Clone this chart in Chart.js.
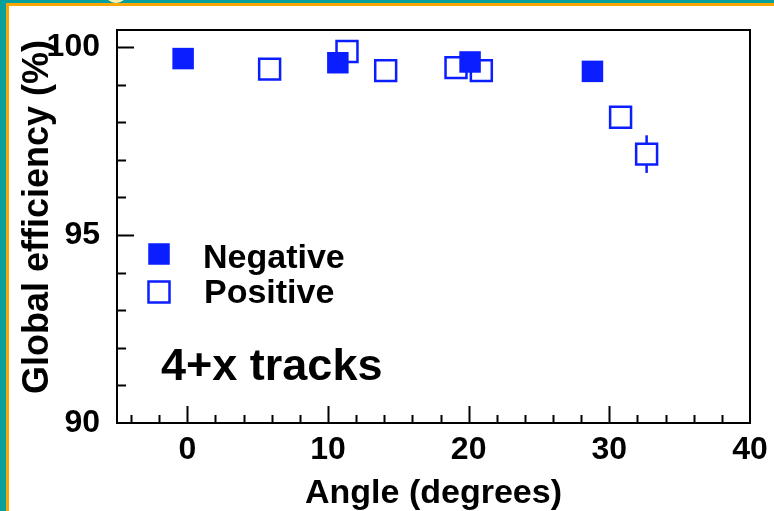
<!DOCTYPE html>
<html>
<head>
<meta charset="utf-8">
<title>Global efficiency vs angle</title>
<script src="https://cdn.jsdelivr.net/npm/chart.js@4.4.1/dist/chart.umd.min.js"></script>
<style>
  html, body { margin: 0; padding: 0; background: #fff; }
  #page { position: relative; width: 774px; height: 511px; overflow: hidden; background: #fff; }
  .bar { position: absolute; }
  #tealLeft { left: 0; top: 0; width: 6px; height: 511px; background: #07a09c; }
  #tealTop { left: 0; top: 0; width: 774px; height: 3px; background: #07a09c; }
  #orangeLeft { left: 6px; top: 3px; width: 3px; height: 508px; background: #f9a602; }
  #orangeTop { left: 6px; top: 3px; width: 768px; height: 3px; background: #f9a602; }
  #blob { left: 106px; top: -14px; width: 20px; height: 17px; border-radius: 50%; background: #fff3b0; }
  #chart { position: absolute; left: 0; top: 0; }
</style>
</head>
<body>
<div id="page">
  <div class="bar" id="tealTop"></div>
  <div class="bar" id="tealLeft"></div>
  <div class="bar" id="orangeTop"></div>
  <div class="bar" id="orangeLeft"></div>
  <div class="bar" id="blob"></div>
  <canvas id="chart" width="774" height="511"></canvas>
</div>
<script>
// values
const negAngle = [-0.3, 10.7, 20.1, 28.8];
const negEff = [99.69, 99.58, 99.6, 99.35];
const posAngle = [5.85, 11.35, 14.1, 19.1, 20.9, 30.8, 32.65];
const posEff = [99.41, 99.88, 99.37, 99.45, 99.37, 98.13, 97.15];
const posErr = [0, 0, 0, 0, 0, 0, 0.5];

// axes
const xTicks = [0, 10, 20, 30, 40];
const yTicks = [90, 95, 100];
const xTitle = "Angle (degrees)";
const yTitle = "Global efficiency (%)";
const legendLabels = ["Negative", "Positive"];
const note = "4+x tracks";

const blue = "#0a1eff";
const font = "'Liberation Sans', Arial, sans-serif";

function toPoints(xs, ys) {
  return xs.map((x, i) => ({ x: x, y: ys[i] }));
}

// error bars as short segments, broken by null points
const errPoints = [];
posAngle.forEach((x, i) => {
  if (posErr[i] > 0) {
    errPoints.push({ x: x, y: posEff[i] - posErr[i] });
    errPoints.push({ x: x, y: posEff[i] + posErr[i] });
    errPoints.push({ x: x, y: null });
  }
});

// frame, inward ticks, legend, text
const rootStyle = {
  id: "rootStyle",
  beforeDatasetsDraw(chart) {
    const { ctx, chartArea: a, scales } = chart;
    const x = scales.x, y = scales.y;
    ctx.save();
    ctx.strokeStyle = "#000";
    ctx.lineWidth = 2;
    ctx.strokeRect(a.left, a.top, a.right - a.left, a.bottom - a.top);
    ctx.beginPath();
    for (let v = -4; v < 40; v += 2) {
      const px = Math.round(x.getPixelForValue(v)) + 0.5;
      const len = xTicks.includes(v) ? 17 : 8;
      ctx.moveTo(px, a.bottom);
      ctx.lineTo(px, a.bottom - len);
    }
    for (let v = 91; v <= 100; v++) {
      const py = Math.round(y.getPixelForValue(v)) + 0.5;
      const len = yTicks.includes(v) ? 17 : 9;
      ctx.moveTo(a.left, py);
      ctx.lineTo(a.left + len, py);
    }
    ctx.stroke();
    ctx.restore();
  },
  afterDraw(chart) {
    const { ctx, chartArea: a } = chart;
    ctx.save();
    // legend
    const lx = a.left + 42;
    ctx.fillStyle = blue;
    ctx.fillRect(lx - 10.75, a.top + 224 - 10.75, 21.5, 21.5);
    ctx.strokeStyle = blue;
    ctx.lineWidth = 2.5;
    ctx.strokeRect(lx - 10.5, a.top + 262 - 10.5, 21, 21);
    ctx.fillStyle = "#000";
    ctx.textAlign = "left";
    ctx.textBaseline = "alphabetic";
    ctx.font = "bold 34px " + font;
    ctx.fillText(legendLabels[0], a.left + 86, a.top + 238);
    ctx.fillText(legendLabels[1], a.left + 87, a.top + 273);
    ctx.font = "bold 45px " + font;
    ctx.fillText(note, a.left + 44, a.top + 350);
    // axis titles
    ctx.font = "bold 34px " + font;
    ctx.textAlign = "center";
    ctx.fillText(xTitle, (a.left + a.right) / 2, 503);
    ctx.translate(48, 217);
    ctx.rotate(-Math.PI / 2);
    ctx.font = "bold 36px " + font;
    ctx.fillText(yTitle, 0, 0);
    ctx.restore();
  }
};

new Chart(document.getElementById("chart"), {
  type: "scatter",
  data: {
    datasets: [
      {
        label: legendLabels[0],
        data: toPoints(negAngle, negEff),
        pointStyle: "rect",
        pointRadius: 15.2,
        backgroundColor: blue,
        borderColor: blue,
        borderWidth: 0,
      },
      {
        label: legendLabels[1],
        data: toPoints(posAngle, posEff),
        pointStyle: "rect",
        pointRadius: 14.8,
        backgroundColor: "#ffffff",
        borderColor: blue,
        borderWidth: 2.5,
      },
      {
        label: "error",
        data: errPoints,
        showLine: true,
        spanGaps: false,
        borderColor: blue,
        borderWidth: 2.5,
        pointRadius: 0,
      },
    ],
  },
  options: {
    responsive: false,
    animation: false,
    devicePixelRatio: 1,
    layout: { padding: { top: 30, right: 24, left: 0, bottom: 0 } },
    plugins: {
      legend: { display: false },
      tooltip: { enabled: false },
    },
    scales: {
      x: {
        type: "linear",
        min: -5,
        max: 40,
        grid: { display: false, drawTicks: false },
        border: { display: false },
        afterBuildTicks: (s) => { s.ticks = xTicks.map((v) => ({ value: v })); },
        afterFit: (s) => { s.height = 88; s.paddingLeft = 0; s.paddingRight = 0; },
        ticks: {
          padding: 8,
          color: "#000",
          font: { family: font, size: 32, weight: "bold" },
        },
      },
      y: {
        type: "linear",
        min: 90,
        max: 100.45,
        grid: { display: false, drawTicks: false },
        border: { display: false },
        afterBuildTicks: (s) => { s.ticks = yTicks.map((v) => ({ value: v })); },
        afterFit: (s) => { s.width = 117; s.paddingTop = 0; s.paddingBottom = 0; },
        ticks: {
          padding: 17,
          color: "#000",
          font: { family: font, size: 32, weight: "bold" },
        },
      },
    },
  },
  plugins: [rootStyle],
});
</script>
</body>
</html>
